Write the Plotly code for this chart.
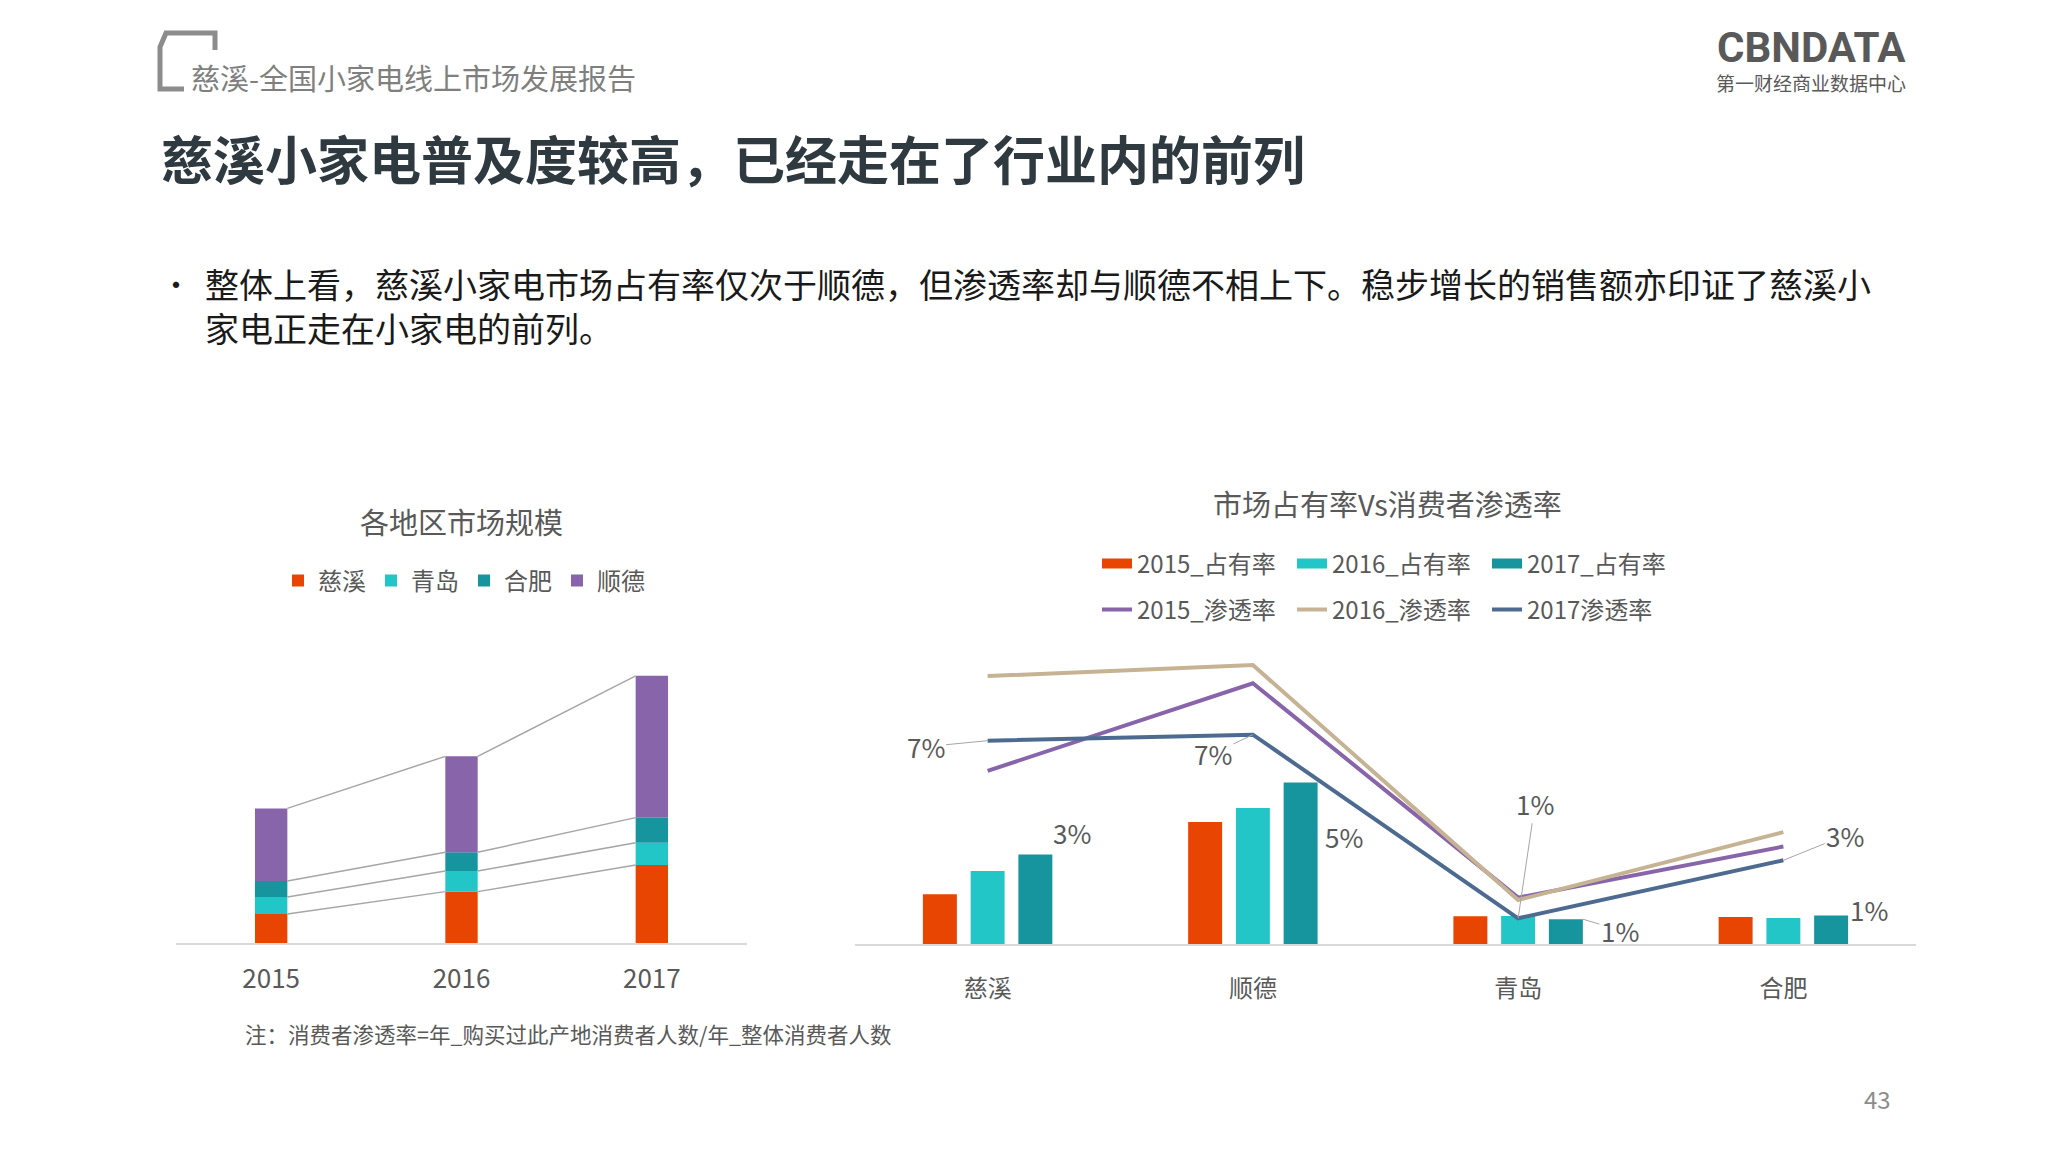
import plotly.graph_objects as go

W, H = 2048, 1152
PAGE_OFF = 8  # default body margin of the html page
def px(x): return (x - PAGE_OFF) / W
def py(y): return 1 - (y - PAGE_OFF) / H

# ---------------- data ----------------
years = ["2015", "2016", "2017"]
left_regions = ["慈溪", "青岛", "合肥", "顺德"]
size_cixi = [8.5, 15.0, 22.8]
size_qingdao = [4.9, 6.0, 6.5]
size_hefei = [4.7, 5.5, 7.3]
size_shunde = [21.2, 28.0, 41.4]

cities = ["慈溪", "顺德", "青岛", "合肥"]
share_2015 = [1.66, 4.08, 0.93, 0.90]
share_2016 = [2.44, 4.55, 0.94, 0.87]
share_2017 = [2.99, 5.40, 0.83, 0.95]
pen_2015 = [5.79, 8.72, 1.55, 3.26]
pen_2016 = [8.96, 9.33, 1.47, 3.74]
pen_2017 = [6.80, 7.00, 0.86, 2.80]

share_names = ["2015_占有率", "2016_占有率", "2017_占有率"]
pen_names = ["2015_渗透率", "2016_渗透率", "2017渗透率"]

# ---------------- style ----------------
FONT = "Noto Sans CJK SC"
ORANGE = "#E84502"
CYAN = "#22C6C6"
TEAL = "#17959F"
PURPLE = "#8865AA"
TAN = "#C6B394"
NAVY = "#4D6B90"
GREY_TXT = "#595959"
left_colors = [ORANGE, CYAN, TEAL, PURPLE]

fig = go.Figure()

# ---------------- left stacked chart ----------------
BW = 0.17
xs_left = list(range(len(years)))
series_left = [size_cixi, size_qingdao, size_hefei, size_shunde]
base = [0.0] * len(years)
tops = []
for name, vals, col in zip(left_regions, series_left, left_colors):
    fig.add_trace(go.Bar(
        x=xs_left, y=vals, base=list(base), width=BW, name=name,
        marker=dict(color=col, line=dict(width=0)),
        xaxis="x", yaxis="y", legend="legend", hoverinfo="name+y"))
    base = [b + v for b, v in zip(base, vals)]
    tops.append(list(base))

# series lines joining segment tops
for lev in tops:
    lx, ly = [], []
    for i in range(len(years) - 1):
        lx += [i + BW / 2, i + 1 - BW / 2, None]
        ly += [lev[i], lev[i + 1], None]
    fig.add_trace(go.Scatter(x=lx, y=ly, mode="lines",
                             line=dict(color="#A6A6A6", width=1.5),
                             showlegend=False, hoverinfo="skip",
                             xaxis="x", yaxis="y"))

# ---------------- right combo chart ----------------
RBW = 0.128
offsets = [-0.244, -0.064, 0.116]
xs_right = list(range(len(cities)))
share_colors = [ORANGE, CYAN, TEAL]
for name, vals, col, off in zip(share_names, [share_2015, share_2016, share_2017],
                                share_colors, offsets):
    fig.add_trace(go.Bar(
        x=xs_right, y=vals, width=RBW, offset=off, name=name,
        marker=dict(color=col, line=dict(width=0)),
        legendgroup=name, showlegend=False,
        xaxis="x2", yaxis="y2"))
    # legend entry drawn as a wide swatch (like the original)
    fig.add_trace(go.Scatter(
        x=[None], y=[None], mode="lines", name=name,
        line=dict(color=col, width=14), legendgroup=name,
        xaxis="x2", yaxis="y2", legend="legend2", hoverinfo="skip"))

for name, vals, col in zip(pen_names, [pen_2015, pen_2016, pen_2017],
                           [PURPLE, TAN, NAVY]):
    fig.add_trace(go.Scatter(
        x=xs_right, y=vals, mode="lines", name=name,
        line=dict(color=col, width=4),
        xaxis="x2", yaxis="y2", legend="legend3"))

annotations = []

# data labels for 2017 penetration line (with leader lines)
pen_label_offsets = [(-62, 6), (-40, 19), (17, -115), (62, -25)]
for i, (v, (ax, ay)) in enumerate(zip(pen_2017, pen_label_offsets)):
    annotations.append(dict(
        x=xs_right[i], y=v, xref="x2", yref="y2",
        text=f"{round(v):.0f}%", showarrow=True, arrowhead=0,
        arrowwidth=1, arrowcolor="#A6A6A6", ax=ax, ay=ay, standoff=0,
        font=dict(size=26, color=GREY_TXT, family=FONT)))

# data labels for 2017 share bars
teal_c = offsets[2] + RBW / 2
bar_label_cfg = [("s", 37, 22), ("s", 43, -54), ("a", 37, 11), ("s", 38, 6)]
for i, (v, (kind, dx, dy)) in enumerate(zip(share_2017, bar_label_cfg)):
    if kind == "s":
        annotations.append(dict(
            x=xs_right[i] + teal_c, y=v, xref="x2", yref="y2",
            text=f"{round(v):.0f}%", showarrow=False, xshift=dx, yshift=dy,
            font=dict(size=26, color=GREY_TXT, family=FONT)))
    else:
        annotations.append(dict(
            x=xs_right[i] + offsets[2] + RBW, y=v, xref="x2", yref="y2",
            text=f"{round(v):.0f}%", showarrow=True, arrowhead=0,
            arrowwidth=1, arrowcolor="#A6A6A6", ax=dx, ay=dy, standoff=0,
            font=dict(size=26, color=GREY_TXT, family=FONT)))

# ---------------- page texts ----------------
def txt(x, y, s, size, color, xanchor="left", yanchor="middle", family=FONT):
    annotations.append(dict(x=px(x), y=py(y), xref="paper", yref="paper",
                            text=s, showarrow=False, xanchor=xanchor,
                            yanchor=yanchor, align="left",
                            font=dict(size=size, color=color, family=family)))

txt(189, 77, "慈溪-全国小家电线上市场发展报告", 29, "#7F7F7F")
txt(159, 157, "<b>慈溪小家电普及度较高，已经走在了行业内的前列</b>", 52, "#2F3A40")
txt(159, 283, "•", 30, "#1A1A1A")
txt(203, 305, "整体上看，慈溪小家电市场占有率仅次于顺德，但渗透率却与顺德不相上下。稳步增长的销售额亦印证了慈溪小"
    "<br>家电正走在小家电的前列。", 34, "#1A1A1A")
txt(461, 521, "各地区市场规模", 29, GREY_TXT, xanchor="center")
txt(1387, 503, "市场占有率Vs消费者渗透率", 29, GREY_TXT, xanchor="center")
txt(243, 1033, "注：消费者渗透率=年_购买过此产地消费者人数/年_整体消费者人数", 21.5, GREY_TXT)
txt(1877, 1098, "43", 24, "#8C8C8C", xanchor="center")
txt(1811, 48, "<b>CBNDATA</b>", 42, "#595959", xanchor="center", family="Roboto")
txt(1811, 82, "第一财经商业数据中心", 19, "#595959", xanchor="center")

# header bracket icon
bracket = (f"M{px(215)},{py(50)} L{px(215)},{py(33)} L{px(166)},{py(33)} "
           f"L{px(160)},{py(47)} L{px(160)},{py(89)} L{px(184)},{py(89)}")

axis_common = dict(showgrid=False, zeroline=False, ticks="",
                   showline=True, linecolor="#D9D9D9", linewidth=2,
                   fixedrange=True)

fig.update_layout(
    width=W, height=H,
    margin=dict(l=0, r=0, t=0, b=0),
    paper_bgcolor="white", plot_bgcolor="rgba(0,0,0,0)",
    font=dict(family=FONT, color=GREY_TXT),
    barmode="overlay",
    showlegend=True,
    xaxis=dict(domain=[px(176), px(747)], range=[-0.5, 2.5],
               tickvals=xs_left, ticktext=years, anchor="y",
               tickfont=dict(size=26, color=GREY_TXT),
               ticklabelstandoff=12, **axis_common),
    yaxis=dict(domain=[py(943), py(669)], range=[0, 80], visible=False,
               anchor="x", fixedrange=True),
    xaxis2=dict(domain=[px(855), px(1916)], range=[-0.5, 3.5],
                tickvals=xs_right, ticktext=cities, anchor="y2",
                tickfont=dict(size=24, color=GREY_TXT),
                ticklabelstandoff=22, **axis_common),
    yaxis2=dict(domain=[py(944), py(645)], range=[0, 10], visible=False,
                anchor="x2", fixedrange=True),
    legend=dict(x=px(278), y=py(581), xanchor="left", yanchor="middle",
                orientation="h", font=dict(size=24, color=GREY_TXT),
                bgcolor="rgba(0,0,0,0)", traceorder="normal"),
    legend2=dict(x=px(1097), y=py(564), xanchor="left", yanchor="middle",
                 orientation="h", font=dict(size=24, color=GREY_TXT),
                 bgcolor="rgba(0,0,0,0)", entrywidth=150),
    legend3=dict(x=px(1097), y=py(610), xanchor="left", yanchor="middle",
                 orientation="h", font=dict(size=24, color=GREY_TXT),
                 bgcolor="rgba(0,0,0,0)", entrywidth=150),
    annotations=annotations,
    shapes=[dict(type="path", path=bracket, xref="paper", yref="paper",
                 line=dict(color="#8C8C8C", width=5))],
)

fig.write_html("out.html")
